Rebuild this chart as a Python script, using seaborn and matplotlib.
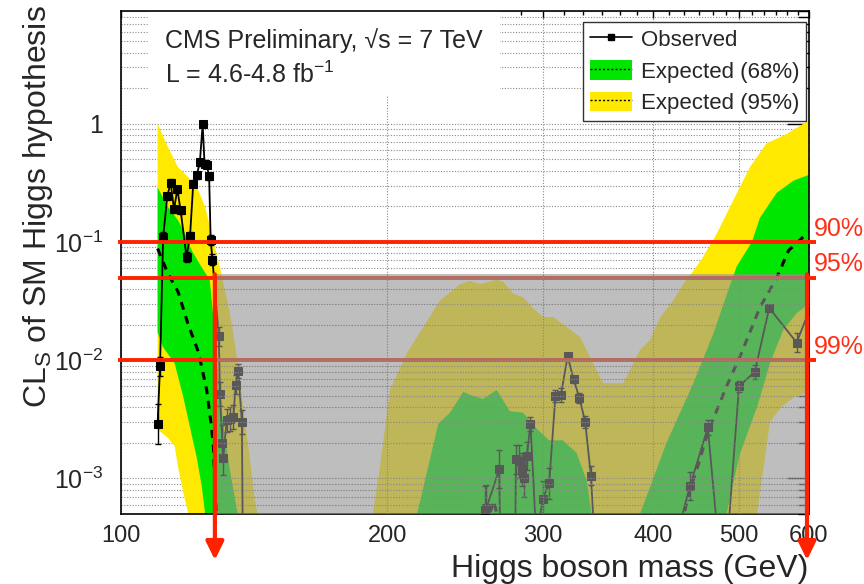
import numpy as np
import matplotlib
matplotlib.use("Agg")
import matplotlib.pyplot as plt
import seaborn as sns
from matplotlib.patches import Patch, Rectangle
from matplotlib.lines import Line2D
from matplotlib.ticker import FixedLocator, FixedFormatter, NullFormatter

sns.set_theme(style="white")
plt.rcParams["font.family"] = ["Liberation Sans", "DejaVu Sans"]
plt.rcParams["mathtext.fontset"] = "custom"
plt.rcParams["mathtext.rm"] = "Liberation Sans"
plt.rcParams["mathtext.it"] = "Liberation Sans:italic"
plt.rcParams["mathtext.bf"] = "Liberation Sans:bold"

# ---------------- data ----------------
# Observed CLs
obs_m = [110, 110.7, 111.6, 112.8, 113.8, 114.8, 115.8, 116.8, 118.6, 119.7,
         120.7, 121.8, 122.8, 123.7, 124.3, 125.0, 125.8, 126.3, 126.9, 129.0,
         129.4, 130.2, 130.5, 131.7, 132.8, 134.0, 134.8, 135.7, 137.0, 137.8,
         257.0, 258.1, 259.0, 267.8, 270.0, 278.0, 279.7, 282.0, 284.0, 286.0,
         287.8, 290.5, 295.0, 299.9, 305.0, 310.0, 314.5, 320.0, 325.0, 330.0,
         335.0, 340.0, 345.0, 430.0, 440.0, 461.0, 480.0, 500.0, 521.0, 541.0,
         581.0, 600.0]
obs_v = [2.9e-3, 8.9e-3, 0.110, 0.243, 0.318, 0.189, 0.279, 0.185, 0.075, 0.113,
         0.311, 0.366, 0.474, 0.99, 0.46, 0.45, 0.36, 0.104, 0.071, 0.016,
         5.2e-3, 2.0e-3, 1.5e-3, 3.1e-3, 3.2e-3, 3.3e-3, 6.2e-3, 8.1e-3, 3.0e-3, 1e-5,
         1e-5, 5.4e-4, 5.6e-4, 1.2e-3, 1e-5, 1e-5, 1.45e-3, 1.4e-3, 1.2e-3, 1.0e-3,
         1.55e-3, 2.9e-3, 3e-4, 6.7e-4, 9.1e-4, 5.0e-3, 5.1e-3, 0.0108, 6.9e-3, 4.8e-3,
         3.0e-3, 1.05e-3, 1.5e-4, 4.5e-4, 8.6e-4, 2.7e-3, 1e-4, 6.0e-3, 8.0e-3, 0.0277,
         0.0141, 0.026]
# observed uncertainty (in decades)
obs_err = [0.17, 0.08, 0.04, 0.03, 0.03, 0.03, 0.03, 0.03, 0.04, 0.03,
           0.03, 0.03, 0.03, 0.02, 0.03, 0.03, 0.03, 0.04, 0.05, 0.08,
           0.10, 0.15, 0.15, 0.10, 0.10, 0.10, 0.08, 0.06, 0.10, 0.0,
           0.0, 0.20, 0.20, 0.16, 0.0, 0.0, 0.12, 0.14, 0.14, 0.16,
           0.12, 0.06, 0.0, 0.15, 0.13, 0.05, 0.06, 0.02, 0.03, 0.04,
           0.05, 0.08, 0.0, 0.0, 0.12, 0.06, 0.0, 0.05, 0.06, 0.02,
           0.08, 0.03]

# Expected median (dashed), three visible pieces
med1_m = [110, 113, 116, 119, 122.3, 125, 126.6, 127.2, 127.7, 128.5]
med1_v = [0.088, 0.054, 0.038, 0.0205, 0.0118, 5.6e-3, 2.7e-3, 1.87e-3, 9e-4, 4e-4]
med2_m = [259, 264, 268]
med2_v = [4e-4, 6.5e-4, 4e-4]
med3_m = [430, 440, 449, 459, 470, 484, 503, 528, 551, 569, 594, 600]
med3_v = [4e-4, 8e-4, 1.26e-3, 2.2e-3, 3.5e-3, 6e-3, 0.0114, 0.028, 0.049, 0.085, 0.114, 0.12]

# 95% band edges
b95_hi_m = [110, 113, 116, 119.1, 122.3, 124.5, 126.1, 127.7, 129.4, 131.1,
            132.8, 134.5, 136.9, 139.3, 141.7, 143, 150, 188, 192.7, 196.3,
            201.5, 210.4, 219.7, 229.5, 241.8, 248.1, 254.7, 266, 270.6, 277.8,
            285.1, 292.6, 300.3, 308.3, 330.5, 342.1, 351.1, 369.9, 386.4, 397,
            407, 420, 432.5, 453, 472, 492.6, 514.5, 537, 566, 600]
b95_hi_v = [1.0, 0.635, 0.43, 0.354, 0.273, 0.198, 0.134, 0.091, 0.061, 0.039,
            0.025, 0.0139, 5.2e-3, 1.87e-3, 6.6e-4, 4.6e-4, 1e-5, 1e-5, 5e-4, 1.26e-3,
            5.6e-3, 0.0114, 0.019, 0.032, 0.044, 0.047, 0.044, 0.048, 0.046, 0.0365,
            0.034, 0.0275, 0.0232, 0.0232, 0.0157, 9.4e-3, 6.4e-3, 6.4e-3, 0.0122, 0.015,
            0.023, 0.031, 0.044, 0.07, 0.118, 0.225, 0.43, 0.68, 0.82, 1.07]
b95_lo_m = [110, 113, 115, 116, 117.6, 119.2, 121, 520, 524, 542, 558, 578, 600]
b95_lo_v = [2.6e-3, 2.2e-3, 1.87e-3, 1.26e-3, 7.6e-4, 5e-4, 1e-5, 1e-5, 5e-4, 3.0e-3, 4.0e-3, 4.9e-3, 5.4e-3]

# 68% band edges
b68_hi_m = [110, 113, 116, 118.1, 120.2, 123.4, 126.0, 127.2, 128.3, 129.4,
            131.1, 133, 135.5, 140, 212, 216.2, 228.5, 235.6, 243.9, 248,
            256.8, 266, 275.3, 285, 295, 305, 316, 327.5, 336.3, 340.6,
            345, 382, 386.4, 414, 444, 468, 484, 497, 517, 528,
            551.5, 576, 600]
b68_hi_v = [0.29, 0.198, 0.153, 0.118, 0.085, 0.061, 0.048, 0.023, 0.01, 5.2e-3,
            2.2e-3, 1.1e-3, 5e-4, 1e-5, 1e-5, 5e-4, 2.9e-3, 3.6e-3, 5.4e-3, 5.1e-3,
            4.7e-3, 5.6e-3, 3.7e-3, 3.6e-3, 2.65e-3, 2.1e-3, 2.1e-3, 1.65e-3, 9.6e-4, 5e-4,
            1e-5, 1e-5, 5e-4, 2e-3, 6.4e-3, 0.017, 0.0355, 0.062, 0.1, 0.16,
            0.26, 0.33, 0.37]
b68_lo_m = [110, 111.5, 115, 117.6, 119.7, 121.8, 123.4, 124.5, 126, 480, 484, 501, 524, 542, 561, 581, 600]
b68_lo_v = [0.0173, 0.013, 9.4e-3, 4.9e-3, 2.7e-3, 1.5e-3, 8.6e-4, 5e-4, 1e-5, 1e-5, 5e-4, 1.6e-3, 4.0e-3, 9.4e-3, 0.018, 0.025, 0.03]

cl_levels = [0.1, 0.05, 0.01]
cl_labels = ["90%", "95%", "99%"]
excl_lo, excl_hi, excl_top = 127.7, 596.9, 0.0533

x_ticks = [100, 200, 300, 400, 500, 600]
x_ticklabels = ["100", "200", "300", "400", "500", "600"]
y_ticks = [1e-3, 1e-2, 1e-1, 1]
y_ticklabels = ["$10^{-3}$", "$10^{-2}$", "$10^{-1}$", "1"]

# ---------------- styling ----------------
GREEN = "#00e600"
YELLOW = "#ffe900"
RED = "#ff2200"
RED_TXT = "#ff3018"
GRIDC = "#8a8a8a"

W, H = 864, 584
fig = plt.figure(figsize=(W / 100, H / 100), dpi=100)
ax = fig.add_axes([121 / W, 70 / H, 688 / W, 503 / H])
ax.set_xscale("log")
ax.set_yscale("log")
ax.set_xlim(100, 600)
ax.set_ylim(5e-4, 9)

# ticks
minor_x = [m for m in range(110, 200, 10)] + \
          [h + k * 100 / 6 for h in (200, 300, 400, 500) for k in range(1, 6)]
minor_y = [k * 10.0 ** d for d in range(-4, 1) for k in range(2, 10)]
ax.xaxis.set_major_locator(FixedLocator(x_ticks))
ax.xaxis.set_major_formatter(FixedFormatter(x_ticklabels))
ax.xaxis.set_minor_locator(FixedLocator(minor_x))
ax.xaxis.set_minor_formatter(NullFormatter())
ax.yaxis.set_major_locator(FixedLocator(y_ticks))
ax.yaxis.set_major_formatter(FixedFormatter(y_ticklabels))
ax.yaxis.set_minor_locator(FixedLocator(minor_y))
ax.yaxis.set_minor_formatter(NullFormatter())
ax.tick_params(which="both", direction="in", top=True, right=True, color="black", width=1)
ax.tick_params(axis="x", which="major", length=5, labelsize=17, pad=8)
ax.tick_params(axis="x", which="minor", length=3)
ax.tick_params(axis="y", which="major", length=16, labelsize=18, pad=13)
ax.tick_params(axis="y", which="minor", length=8)
for s in ax.spines.values():
    s.set_color("black")
    s.set_linewidth(1.2)

# grid (below the bands)
ax.set_axisbelow(True)
ax.grid(True, which="major", axis="x", color=GRIDC, linestyle=(0, (1, 1.5)), linewidth=0.8)
ax.grid(True, which="both", axis="y", color=GRIDC, linestyle=(0, (1, 1.5)), linewidth=0.8)

# white box behind the header text
ax.add_patch(Rectangle((0.039, 0.833), 0.512, 0.17, transform=ax.transAxes,
                       facecolor="white", edgecolor="none", zorder=0.8))

# bands
ax.fill(list(b95_hi_m) + list(b95_lo_m)[::-1], list(b95_hi_v) + list(b95_lo_v)[::-1],
        color=YELLOW, lw=0, zorder=1)
ax.fill(list(b68_hi_m) + list(b68_lo_m)[::-1], list(b68_hi_v) + list(b68_lo_v)[::-1],
        color=GREEN, lw=0, zorder=1.1)

# expected median
for mm, vv in ((med1_m, med1_v), (med2_m, med2_v), (med3_m, med3_v)):
    sns.lineplot(x=mm, y=vv, ax=ax, color="black", lw=2.2, sort=False,
                 estimator=None, legend=False, zorder=2)
    ax.lines[-1].set_dashes([2.6, 2.2])

# observed
ov = np.array(obs_v)
oe = np.array(obs_err)
ax.errorbar(obs_m, obs_v, yerr=[ov - ov * 10 ** (-oe), ov * 10 ** oe - ov], fmt="none",
            ecolor="black", elinewidth=1.0, capsize=2, capthick=1.0, zorder=3)
sns.lineplot(x=obs_m, y=obs_v, ax=ax, color="black", lw=1.3, marker="s", markersize=5.5,
             markeredgecolor="black", sort=False, estimator=None, legend=False, zorder=3)

# CL lines
ytr = ax.get_yaxis_transform()
for lv in cl_levels:
    ax.plot([-0.004, 1.01], [lv, lv], transform=ytr, clip_on=False, color=RED, lw=2.8,
            solid_capstyle="butt", zorder=4)

# grid visible inside the excluded region
for yv in minor_y + y_ticks:
    if 5e-4 < yv < excl_top:
        ax.hlines(yv, excl_lo, excl_hi, colors="#777777", linestyles=(0, (1, 1.5)), lw=0.8, zorder=4.5)
for xv in (200, 300, 400, 500):
    ax.vlines(xv, 5e-4, excl_top, colors="#777777", linestyles=(0, (1, 1.5)), lw=0.8, zorder=4.5)

# excluded-region overlay
ax.add_patch(Rectangle((excl_lo, 1e-5), excl_hi - excl_lo, excl_top - 1e-5,
                       facecolor=(0.58, 0.58, 0.58), alpha=0.6, edgecolor="none", zorder=5))

# arrows
for xm in (excl_lo, excl_hi):
    ax.annotate("", xy=(xm, 24 / H), xycoords=("data", "figure fraction"),
                xytext=(xm, excl_top), textcoords="data", annotation_clip=False,
                arrowprops=dict(arrowstyle="-|>,head_length=0.55,head_width=0.27",
                                mutation_scale=20, color=RED, lw=3, shrinkA=0, shrinkB=0),
                zorder=6)

# CL labels
for lab, yp in zip(cl_labels, (229, 264, 347)):
    fig.text(814 / W, 1 - yp / H, lab, color=RED_TXT, fontsize=18, ha="left", va="center")

# header text
ax.text(0.064, 0.942, "CMS Preliminary, \u221as = 7 TeV", transform=ax.transAxes,
        fontsize=18, va="center", ha="left", zorder=7)
ax.text(0.064, 0.873, "L = 4.6-4.8 fb$^{-1}$", transform=ax.transAxes,
        fontsize=18, va="center", ha="left", zorder=7)

# legend
handles = [Line2D([], [], color="black", lw=1.2, marker="s", markersize=5),
           (Patch(facecolor=GREEN, edgecolor="none"), Line2D([], [], color="black", lw=1, linestyle=(0, (1.5, 1.5)))),
           (Patch(facecolor=YELLOW, edgecolor="none"), Line2D([], [], color="black", lw=1, linestyle=(0, (1.5, 1.5))))]
labels = ["Observed", "Expected (68%)", "Expected (95%)"]
leg = ax.legend(handles, labels, loc="upper left", bbox_to_anchor=((583 - 121) / 688, (514 - 22) / 503),
                fontsize=16, frameon=True, fancybox=False, framealpha=1, edgecolor="#333333",
                borderpad=0.3, handlelength=1.9, handleheight=1.0, labelspacing=0.4,
                handletextpad=0.4, borderaxespad=0)
leg.get_frame().set_linewidth(1.0)
leg.set_zorder(8)

# axis titles
fig.text(38 / W, 1 - 5 / H, "CL$_{\\mathrm{S}}$ of SM Higgs hypothesis", rotation=90,
         ha="center", va="top", fontsize=23)
fig.text(808 / W, 1 - 577 / H, "Higgs boson mass (GeV)", ha="right", va="baseline", fontsize=23)

fig.savefig("out.png", dpi=100)
